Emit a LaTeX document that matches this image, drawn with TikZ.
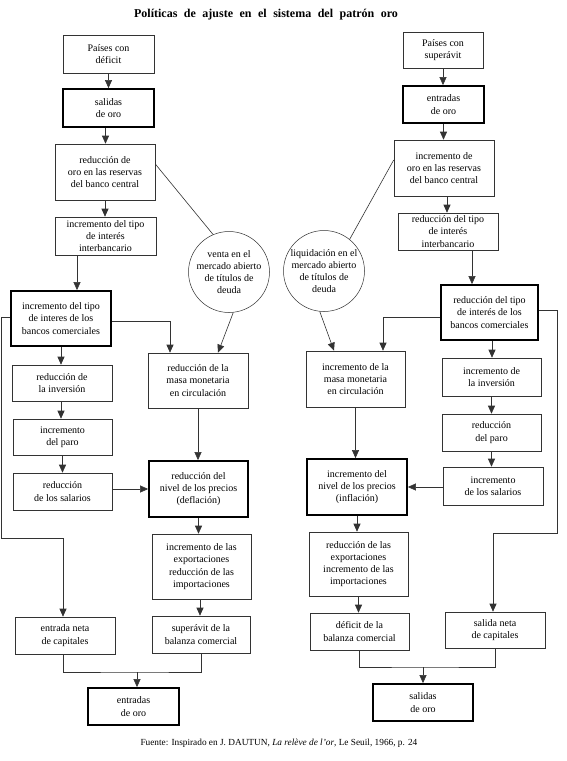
\documentclass[tikz,border=0pt]{standalone}
\usepackage{fontspec}
\setmainfont{Liberation Serif}
\usetikzlibrary{arrows.meta}
\begin{document}
\begin{tikzpicture}[x=1pt,y=-1pt,
  box/.style={draw=black!80, line width=0.6pt, inner sep=0pt, align=center, font=\fontsize{10}{12.2}\selectfont},
  tbox/.style={box, draw=black, line width=1.8pt},
  circ/.style={draw=black!80, line width=0.5pt, circle, inner sep=0pt, minimum size=81pt, align=center, font=\fontsize{10}{12}\selectfont},
  ln/.style={draw=black!80, line width=0.6pt},
  arr/.style={ln, -{Triangle[length=8pt,width=7pt]}}
]
\fill[white] (0,0) rectangle (567,761);
\useasboundingbox (0,0) rectangle (567,761);

\node[font=\fontsize{12}{14}\bfseries] (title) at (266,15) {\spaceskip=6.5pt Políticas de ajuste en el sistema del patrón oro};

% ---------------- left column ----------------
\node[box, minimum width=91pt, minimum height=38pt] (pdef) at (108.5,54) {Países con\\déficit};
\node[tbox, minimum width=91pt, minimum height=38pt] (sal1) at (108.5,108) {salidas\\de oro};
\node[box, minimum width=100pt, minimum height=56pt] (redoro) at (105,172) {reducción de\\oro en las reservas\\del banco central};
\node[box, minimum width=101pt, minimum height=38pt] (intb1) at (105.5,236) {incremento del tipo\\de interés\\interbancario};
\node[circ] (circ1) at (229,272) {venta en el\\mercado abierto\\de títulos de\\deuda};
\node[tbox, minimum width=100pt, minimum height=55pt] (banc1) at (61,318.5) {incremento del tipo\\de interes de los\\bancos comerciales};
\node[box, minimum width=100pt, minimum height=55pt] (masa1) at (198,380.5) {reducción de la\\masa monetaria\\en circulación};
\node[box, minimum width=100pt, minimum height=36pt] (inv1) at (62,383) {reducción de\\la inversión};
\node[box, minimum width=99pt, minimum height=36pt] (paro1) at (62.5,437) {incremento\\del paro};
\node[box, minimum width=99pt, minimum height=37pt] (salw1) at (62.5,491.5) {reducción\\de los salarios};
\node[tbox, minimum width=99pt, minimum height=56pt] (prec1) at (198.5,489) {reducción del\\nivel de los precios\\(deflación)};
\node[box, minimum width=99pt, minimum height=65pt] (exp1) at (201.5,566.5) {incremento de las\\exportaciones\\reducción de las\\importaciones};
\node[box, minimum width=98pt, minimum height=37pt] (sup1) at (201,634.5) {superávit de la\\balanza comercial};
\node[box, minimum width=100pt, minimum height=37pt] (neta1) at (65,635.5) {entrada neta\\de capitales};
\node[tbox, minimum width=91pt, minimum height=37pt] (ent2) at (133.5,706.5) {entradas\\de oro};

\coordinate (l1) at (1.5,538);
\coordinate (j1) at (137,672);

\draw[arr] (pdef.south) -- (pdef.south |- sal1.north);
\draw[arr] ([xshift=-3pt]sal1.south) -- ([xshift=-3pt]sal1.south |- redoro.north);
\draw[arr] (redoro.south) -- (redoro.south |- intb1.north);
\draw[arr] ([xshift=-28.5pt]intb1.south) -- ([xshift=-28.5pt]intb1.south |- banc1.north);
\draw[ln] ([yshift=8pt]redoro.east) -- (circ1.113);
\draw[arr] (circ1.-84) -- ([xshift=20pt]masa1.north);
\draw[arr] ([yshift=-2.5pt]banc1.east) -| ([xshift=-28pt]masa1.north);
\draw[arr] ([yshift=1.5pt]banc1.west) -| (l1) -| ([xshift=-2pt]neta1.north);
\draw[arr] (banc1.south) -- (banc1.south |- inv1.north);
\draw[arr] ([xshift=-1pt]inv1.south) -- ([xshift=-1pt]inv1.south |- paro1.north);
\draw[arr] (paro1.south) -- (paro1.south |- salw1.north);
\draw[arr] ([yshift=2.5pt]salw1.east) -- ([yshift=2.5pt]salw1.east -| prec1.west);
\draw[arr] (masa1.south) -- (masa1.south |- prec1.north);
\draw[arr] (prec1.south) -- (prec1.south |- exp1.north);
\draw[arr] ([xshift=-1.5pt]exp1.south) -- ([xshift=-1.5pt]exp1.south |- sup1.north);
\draw[ln] ([xshift=-2pt]neta1.south) |- (j1) -| (sup1.south);
\draw[arr] (j1) -- (j1 |- ent2.north);

% ---------------- right column ----------------
\node[box, minimum width=80pt, minimum height=36pt] (psup) at (443,50) {Países con\\superávit};
\node[tbox, minimum width=81pt, minimum height=37pt] (ent1) at (443.5,104.5) {entradas\\de oro};
\node[box, minimum width=100pt, minimum height=56pt] (incoro) at (444,168) {incremento de\\oro en las reservas\\del banco central};
\node[box, minimum width=100pt, minimum height=37pt] (intb2) at (448,231.5) {reducción del tipo\\de interés\\interbancario};
\node[circ] (circ2) at (324,271) {liquidación en el\\mercado abierto\\de títulos de\\deuda};
\node[tbox, minimum width=97pt, minimum height=55pt] (banc2) at (489.5,312.5) {reducción del tipo\\de interés de los\\bancos comerciales};
\node[box, minimum width=99pt, minimum height=56pt] (masa2) at (355.5,379) {incremento de la\\masa monetaria\\en circulación};
\node[box, minimum width=99pt, minimum height=38pt] (inv2) at (491.5,377) {incremento de\\la inversión};
\node[box, minimum width=99pt, minimum height=37pt] (paro2) at (491.5,432.5) {reducción\\del paro};
\node[box, minimum width=100pt, minimum height=38pt] (salw2) at (493,486) {incremento\\de los salarios};
\node[tbox, minimum width=100pt, minimum height=56pt] (prec2) at (357,487) {incremento del\\nivel de los precios\\(inflación)};
\node[box, minimum width=99pt, minimum height=64pt] (exp2) at (358.5,564) {reducción de las\\exportaciones\\incremento de las\\importaciones};
\node[box, minimum width=99pt, minimum height=37pt] (def2) at (359.5,631.5) {déficit de la\\balanza comercial};
\node[box, minimum width=100pt, minimum height=36pt] (neta2) at (495,630) {salida neta\\de capitales};
\node[tbox, minimum width=100pt, minimum height=37pt] (sal2) at (423,702.5) {salidas\\de oro};

\coordinate (r1) at (557,533);
\coordinate (j2) at (423,667);

\draw[arr] (psup.south) -- (psup.south |- ent1.north);
\draw[arr] (ent1.south) -- (ent1.south |- incoro.north);
\draw[arr] ([xshift=3pt]incoro.south) -- ([xshift=3pt]incoro.south |- intb2.north);
\draw[arr] ([xshift=24pt]intb2.south) -- ([xshift=24pt]intb2.south |- banc2.north);
\draw[ln] ([yshift=8pt]incoro.west) -- (circ2.51);
\draw[arr] (circ2.-96) -- ([xshift=-21.5pt]masa2.north);
\draw[arr] ([yshift=-4.5pt]banc2.west) -| ([xshift=27.5pt]masa2.north);
\draw[arr] ([yshift=2.5pt]banc2.east) -| (r1) -| ([xshift=-2pt]neta2.north);
\draw[arr] ([xshift=2.5pt]banc2.south) -- ([xshift=2.5pt]banc2.south |- inv2.north);
\draw[arr] (inv2.south) -- (inv2.south |- paro2.north);
\draw[arr] (paro2.south) -- (paro2.south |- salw2.north);
\draw[arr] ([yshift=-1pt]salw2.west) -- ([yshift=-1pt]salw2.west -| prec2.east);
\draw[arr] (masa2.south) -- (masa2.south |- prec2.north);
\draw[arr] (prec2.south) -- (prec2.south |- exp2.north);
\draw[arr] (exp2.south) -- (exp2.south |- def2.north);
\draw[ln] (def2.south) |- (j2) -| (neta2.south);
\draw[arr] (j2) -- (j2 |- sal2.north);

\node[font=\fontsize{9.3}{11}\selectfont, anchor=west] (src) at (137,743) {Fuente: Inspirado en J. DAUTUN, \textit{La relève de l'or}, Le Seuil, 1966, p. 24};
\end{tikzpicture}
\end{document}
